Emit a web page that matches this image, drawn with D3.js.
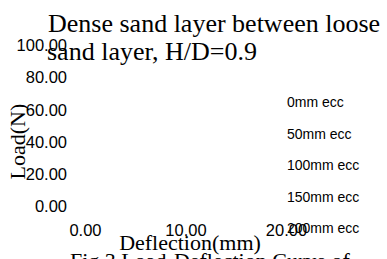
<!DOCTYPE html>
<html>
<head>
<meta charset="utf-8">
<script src="https://cdn.jsdelivr.net/npm/d3@7"></script>
<style>
    html, body { margin: 0; padding: 0; background: #fff; }
    svg { display: block; }
    .serif { font-family: "Liberation Serif", "Times New Roman", serif; fill: #000; }
    .sans { font-family: "Liberation Sans", Arial, sans-serif; fill: #000; }
</style>
</head>
<body>
<div id="chart"></div>
<script>
// --- Data ---
const titleLines = ['Dense sand layer between loose', 'sand layer, H/D=0.9'];
const seriesNames = ['0mm ecc', '50mm ecc', '100mm ecc', '150mm ecc', '200mm ecc'];
const xTicks = [0, 10, 20];
const yTicks = [0, 20, 40, 60, 80, 100];
const xLabel = 'Deflection(mm)';
const yLabel = 'Load(N)';
const caption = 'Fig 3 Load-Deflection Curve of';

// --- Layout ---
const width = 387, height = 259;
const margin = { top: 45, right: 100, bottom: 53, left: 85 };

const svg = d3.select('#chart')
    .append('svg')
    .attr('width', width)
    .attr('height', height);

const x = d3.scaleLinear()
    .domain([0, 20])
    .range([margin.left, margin.left + 201]);

const y = d3.scaleLinear()
    .domain([0, 100])
    .range([height - margin.bottom, margin.top]);

// Title (wrapped, left aligned)
svg.append('text')
    .attr('class', 'serif')
    .attr('font-size', 26)
    .selectAll('tspan')
    .data(titleLines)
    .enter()
    .append('tspan')
    .attr('x', (d, i) => i === 0 ? 48 : 47)
    .attr('y', (d, i) => 32 + i * 28)
    .text(d => d);

// Axes, text only
const fmt = d3.format('.2f');

const yAxis = svg.append('g')
    .attr('transform', `translate(${margin.left - 18},0)`)
    .call(d3.axisLeft(y).tickValues(yTicks).tickFormat(fmt).tickSize(0).tickPadding(0));
yAxis.select('.domain').remove();

const xAxis = svg.append('g')
    .attr('transform', `translate(0,${height - 29})`)
    .call(d3.axisBottom(x).tickValues(xTicks).tickFormat(fmt).tickSize(0).tickPadding(0));
xAxis.select('.domain').remove();

svg.selectAll('g').attr('font-family', null).attr('font-size', null);
svg.selectAll('.tick text')
    .attr('class', 'sans')
    .attr('font-size', 16.5)
    .attr('fill', '#000')
    .attr('dy', '0.35em');

// Axis titles
svg.append('text')
    .attr('class', 'serif')
    .attr('font-size', 22)
    .attr('text-anchor', 'middle')
    .attr('transform', `translate(25,${y(40)}) rotate(-90)`)
    .text(yLabel);

svg.append('text')
    .attr('class', 'serif')
    .attr('font-size', 22)
    .attr('text-anchor', 'middle')
    .attr('x', 190)
    .attr('y', 250)
    .text(xLabel);

svg.append('text')
    .attr('class', 'serif')
    .attr('font-size', 22)
    .attr('x', 70)
    .attr('y', 268)
    .text(caption);

// Legend
const legendY = d3.scalePoint()
    .domain(seriesNames)
    .range([107, 233]);

svg.append('g')
    .selectAll('text')
    .data(seriesNames)
    .enter()
    .append('text')
    .attr('class', 'sans')
    .attr('font-size', 14)
    .attr('x', 287)
    .attr('y', d => legendY(d))
    .text(d => d);
</script>
</body>
</html>
